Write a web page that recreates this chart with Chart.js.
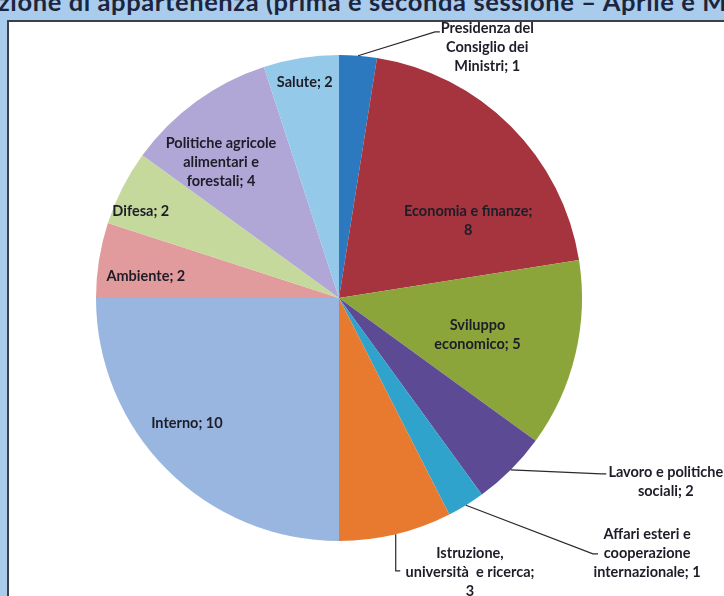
<!DOCTYPE html>
<html>
<head>
<meta charset="utf-8">
<script src="https://cdn.jsdelivr.net/npm/chart.js@4.4.1/dist/chart.umd.min.js"></script>
<style>
  html, body { margin: 0; padding: 0; }
  body { width: 724px; height: 596px; position: relative; overflow: hidden; background: #a9cbec; }
  #title { position: absolute; left: -2px; top: -14px; white-space: nowrap;
           font: bold 25.5px Lato, "Open Sans", sans-serif; color: #1b2540; letter-spacing: 0.6px; }
  #panel { position: absolute; left: 7px; top: 20px; width: 760px; height: 640px;
           background: #ffffff; border-left: 2px solid #3a3f48; border-top: 2px solid #3a3f48; }
  #c { position: absolute; left: 0; top: 0; }
</style>
</head>
<body>
<div id="title">zione di appartenenza (prima e seconda sessione – Aprile e Maggio</div>
<div id="panel"></div>
<canvas id="c" width="724" height="596"></canvas>
<script>
// ---- data ----
const categories = [
  "Presidenza del\nConsiglio dei\nMinistri",
  "Economia e finanze",
  "Sviluppo\neconomico",
  "Lavoro e politiche\nsociali",
  "Affari esteri e\ncooperazione\ninternazionale",
  "Istruzione,\nuniversità  e ricerca",
  "Interno",
  "Ambiente",
  "Difesa",
  "Politiche agricole\nalimentari e\nforestali",
  "Salute"
];
const values = [1, 8, 5, 2, 1, 3, 10, 2, 2, 4, 2];
const valueOnNewLine = [false, true, false, false, false, true, false, false, false, false, false];
const sliceColors = [
  "#2c79bf", "#a5343f", "#8ca53b", "#5c4a95", "#2fa3cc", "#e87a2f",
  "#98b6e0", "#e29b9c", "#c5d99d", "#b1a7d7", "#95c9ea"
];

// ---- label placement (layout, not data) ----
const placement = [
  { out: true, tx: 0.61, ty: -1.033, ex: 0.395, ey: -1.095, hx: 0.415 },
  { f: 0.62, da: 14 },
  { f: 0.59, da: 1.5 },
  { out: true, tx: 1.345, ty: 0.755, ex: 1.080, ey: 0.724, hx: 1.100 },
  { out: true, tx: 1.268, ty: 1.049, ex: 1.045, ey: 1.053, hx: 1.066 },
  { out: true, tx: 0.539, ty: 1.128, ex: 0.230, ey: 1.123, hx: 0.252, vertical: true },
  { f: 0.81, da: 5.6 },
  { f: 0.80, da: -2.5 },
  { f: 0.89, da: -3.4 },
  { f: 0.74, da: -5 },
  { f: 0.90, da: 0 }
];

const FONT = "bold 14.5px Lato, 'Open Sans', sans-serif";
const LINE_H = 19;

function labelLines(i) {
  const parts = categories[i].split("\n");
  if (valueOnNewLine[i]) {
    parts[parts.length - 1] += ";";
    parts.push(String(values[i]));
  } else {
    parts[parts.length - 1] += "; " + values[i];
  }
  return parts;
}

const labelPlugin = {
  id: "sliceLabels",
  afterDatasetsDraw(chart) {
    const ctx = chart.ctx;
    const meta = chart.getDatasetMeta(0);
    ctx.save();
    ctx.font = FONT;
    ctx.fillStyle = "#1d1d28";
    ctx.textAlign = "center";
    ctx.textBaseline = "middle";
    meta.data.forEach((arc, i) => {
      const p = arc.getProps(["x", "y", "startAngle", "endAngle", "outerRadius"], true);
      const mid = (p.startAngle + p.endAngle) / 2;
      const R = p.outerRadius;
      const pl = placement[i];
      const lines = labelLines(i);
      let cx, cy;
      if (pl.out) {
        cx = p.x + pl.tx * R;
        cy = p.y + pl.ty * R;
        const sx = p.x + Math.cos(mid) * R;
        const sy = p.y + Math.sin(mid) * R;
        const ex = p.x + pl.ex * R;
        const ey = p.y + pl.ey * R;
        ctx.beginPath();
        ctx.strokeStyle = "#2a2a2a";
        ctx.lineWidth = 1.2;
        ctx.moveTo(sx, sy);
        if (pl.vertical) {
          ctx.lineTo(sx, ey);
        } else {
          ctx.lineTo(ex, ey);
        }
        ctx.lineTo(p.x + pl.hx * R, ey);
        ctx.stroke();
      } else {
        const a = mid + pl.da * Math.PI / 180;
        cx = p.x + Math.cos(a) * R * pl.f;
        cy = p.y + Math.sin(a) * R * pl.f;
      }
      const y0 = cy - (lines.length - 1) * LINE_H / 2;
      lines.forEach((t, k) => ctx.fillText(t, cx, y0 + k * LINE_H));
    });
    ctx.restore();
  }
};

new Chart(document.getElementById("c"), {
  type: "pie",
  data: {
    labels: categories.map(c => c.replace(/\n/g, " ")),
    datasets: [{
      data: values,
      backgroundColor: sliceColors,
      borderWidth: 0
    }]
  },
  options: {
    responsive: false,
    animation: false,
    layout: { padding: { left: 96, top: 55, right: 142, bottom: 55 } },
    plugins: { legend: { display: false }, tooltip: { enabled: false } }
  },
  plugins: [labelPlugin]
});
</script>
</body>
</html>
